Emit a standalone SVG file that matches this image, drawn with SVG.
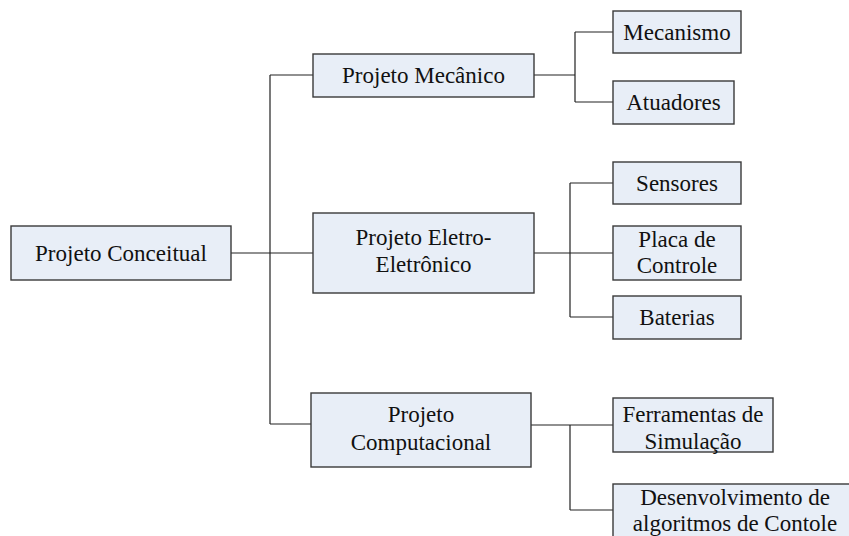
<svg xmlns="http://www.w3.org/2000/svg" width="849" height="536" viewBox="0 0 849 536">
<style>
.box{fill:#E8EEF7;stroke:#3a3a3a;stroke-width:1.4}
.t{font-family:"Liberation Serif","Times New Roman",serif;font-size:23px;fill:#111;text-anchor:middle}
.c{fill:none;stroke:#222;stroke-width:1.2}
</style>
<rect width="849" height="536" fill="#fff"/>
<g id="connectors">
<path class="c" d="M231,253H270M270,75V424M270,75H313M270,253H313M270,424H311"/>
<path class="c" d="M534,75H575M575,32V102M575,32H613M575,102H613"/>
<path class="c" d="M534,253H570M570,183V317M570,183H613M570,253H613M570,317H613"/>
<path class="c" d="M531,425H570M570,425V510M570,425H613M570,510H613"/>
</g>
<g id="conceitual"><rect class="box" x="11" y="226" width="220" height="54"/><text class="t" x="121" y="261">Projeto Conceitual</text></g>
<g id="mecanico"><rect class="box" x="313" y="54" width="221" height="43"/><text class="t" x="423.5" y="83">Projeto Mecânico</text></g>
<g id="eletro"><rect class="box" x="313" y="213" width="221" height="80"/><text class="t" x="423.5" y="245">Projeto Eletro-</text><text class="t" x="423.5" y="272">Eletrônico</text></g>
<g id="computacional"><rect class="box" x="311" y="393" width="220" height="74"/><text class="t" x="421" y="422">Projeto</text><text class="t" x="421" y="450">Computacional</text></g>
<g id="mecanismo"><rect class="box" x="613" y="11" width="128" height="42"/><text class="t" x="677" y="40">Mecanismo</text></g>
<g id="atuadores"><rect class="box" x="613" y="81" width="121" height="43"/><text class="t" x="673.5" y="110">Atuadores</text></g>
<g id="sensores"><rect class="box" x="613" y="162" width="128" height="42"/><text class="t" x="677" y="191">Sensores</text></g>
<g id="placa"><rect class="box" x="613" y="226" width="128" height="54"/><text class="t" x="677" y="247">Placa de</text><text class="t" x="677" y="273">Controle</text></g>
<g id="baterias"><rect class="box" x="613" y="296" width="128" height="43"/><text class="t" x="677" y="325">Baterias</text></g>
<g id="ferramentas"><rect class="box" x="613" y="398" width="160" height="54"/><text class="t" x="693" y="422">Ferramentas de</text><text class="t" x="693" y="449">Simulação</text></g>
<g id="desenvolvimento"><rect class="box" x="613" y="484" width="250" height="60"/><text class="t" x="735" y="505">Desenvolvimento de</text><text class="t" x="735" y="531">algoritmos de Contole</text></g>
</svg>
